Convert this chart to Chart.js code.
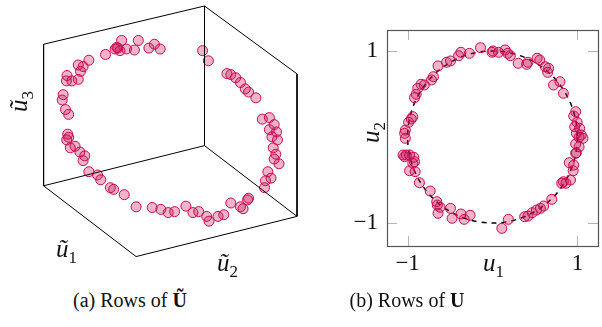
<!DOCTYPE html>
<html>
<head>
<meta charset="utf-8">
<script src="https://cdn.jsdelivr.net/npm/chart.js@4/dist/chart.umd.min.js"></script>
<style>
  body { margin: 0; width: 602px; height: 327px; background: #fff; overflow: hidden; position: relative; font-family: 'Liberation Serif', 'Times New Roman', Times, 'DejaVu Serif', serif; }
  canvas { position: absolute; }
  #leftChart { left: 0; top: 0; }
  #rightChart { left: 340px; top: 0; }
  .lbl { position: absolute; font-style: italic; font-size: 25px; font-family: 'Liberation Serif', 'Times New Roman', Times, 'DejaVu Serif', serif; color: #111; white-space: nowrap; line-height: 1; }
  .lbl .s { font-style: normal; font-size: 17px; position: relative; top: 6px; }
  .cap { position: absolute; font-size: 20px; font-family: 'Liberation Serif', 'Times New Roman', Times, 'DejaVu Serif', serif; color: #111; white-space: nowrap; transform: translateX(-50%); }
</style>
</head>
<body>
<canvas id="leftChart" width="330" height="275"></canvas>
<canvas id="rightChart" width="264" height="290"></canvas>

<div class="lbl" style="left:8px; top:89px; transform: rotate(-90deg);">ũ<span class="s">3</span></div>
<div class="lbl" style="left:56px; top:236px;">ũ<span class="s">1</span></div>
<div class="lbl" style="left:217px; top:250px;">ũ<span class="s">2</span></div>
<div class="lbl" style="left:483px; top:250px;">u<span class="s">1</span></div>
<div class="lbl" style="left:360px; top:120px; transform: rotate(-90deg);">u<span class="s">2</span></div>

<div class="cap" style="left:130px; top:289px;">(a) Rows of <b>Ũ</b></div>
<div class="cap" style="left:407px; top:289px;">(b) Rows of <b>U</b></div>

<script>
// (a) rows of U~, projected onto the drawing plane
const leftX = [120, 137.3, 154, 160, 148.3, 133.3, 125, 115, 113.3, 118.3, 103.3, 86, 75, 80, 77.3,
    63.3, 62.7, 68.3, 75, 59.3, 58.3, 61.7, 65, 64, 65, 66.7, 71.7, 76.7, 81.7, 80, 86, 95, 98.3,
    108.3, 111.7, 122.7, 135, 151.7, 160.7, 168.3, 175, 186.7, 194, 200, 208.3, 210.7, 220, 226,
    233.3, 243.3, 250.7, 251.7, 268.3, 269.3, 275, 271.7, 283.3, 278.3, 280, 277.3, 281.7, 276,
    273.3, 280.7, 278.3, 266, 273.3, 259.3, 251.7, 248.3, 243.3, 238.3, 233.3, 229.3, 210, 204,
    63, 246, 116];
const leftY = [36, 36, 40, 45, 44, 46, 45, 43.3, 45, 46.7, 50.7, 56.7, 61.7, 63.3, 68.3,
    72.7, 78.3, 78.3, 76.7, 92.7, 98.3, 108.3, 113.3, 134, 137.3, 148.3, 146.7, 152.7, 156.7, 161.7, 173.3, 176.7, 181.7,
    190, 191.7, 197.3, 210, 210.7, 212.7, 216, 215, 209.3, 216, 215, 220, 225, 220, 218.3,
    206, 210, 202.7, 201, 190, 182.7, 180, 173.3, 165, 160, 155, 148.3, 140, 136.7,
    129.3, 131.7, 124, 118.3, 116.7, 96, 90, 86.7, 80, 75, 71.7, 70.7, 57.3, 46.7,
    140, 212, 44];

// projected corners of the 3D axis box, and which corners are joined
const boxCornersX = [39, 206, 302, 39, 135, 302, 206];
const boxCornersY = [40, 0, 71, 188, 262, 220, 146];
const boxEdges = [[0, 3], [3, 4], [4, 5], [2, 5], [0, 1], [1, 2], [1, 6], [6, 3], [6, 5]];

// (b) rows of U
const rightU1 = [-0.141, -0.272, -0.372, -0.399, -0.495, -0.541, -0.642, -0.696, -0.719, -0.803,
    -0.842, -0.881, -0.899, -0.919, -0.939, -0.957, -0.988, -1.027, -1.035, -1.027,
    -0.006, 0.006, 0.072, 0.148, 0.179, 0.210, 0.303, 0.402, 0.418, 0.526, 0.557, 0.622, 0.661,
    0.650, 0.719, 0.795, 0.835, 0.980, 0.957, 0.997, 0.969, 1.027,
    1.046, 1.066, 1.020, 0.988, 0.980, 1.020, 0.988, 0.980, 0.904, 0.957, 0.950, 0.919, 0.865,
    0.835, 0.815,
    0.699, 0.603, 0.564, 0.518, 0.468, 0.418, 0.379, 0.187, 0.110,
    -1.015, -1.035, -1.054, -0.977, -0.927, -0.939, -0.919, -0.977, -0.911, -0.861, -0.734,
    -0.657, -0.650, -0.618, -0.642, -0.495, -0.476, -0.372, -0.333, -0.264];
const rightU2 = [1.038, 0.973, 0.985, 0.945, 0.884, 0.869, 0.826, 0.701, 0.663, 0.605,
    0.613, 0.566, 0.497, 0.457, 0.236, 0.209, 0.171, 0.081, 0.043, -0.015,
    0.985, 1.0, 0.985, 1.012, 0.973, 0.945, 0.857, 0.845, 0.869, 0.915, 0.895, 0.817, 0.799,
    0.752, 0.605, 0.643, 0.508, 0.294, 0.244, 0.171, 0.120, 0.101,
    0.023, -0.015, -0.003, 0.043, -0.081, -0.113, -0.183, -0.190, -0.299, -0.326, -0.392, -0.5, -0.538,
    -0.520, -0.538,
    -0.724, -0.802, -0.829, -0.849, -0.880, -0.919, -0.927, -0.957, -1.062,
    -0.209, -0.229, -0.209, -0.209, -0.236, -0.306, -0.287, -0.392, -0.403, -0.531, -0.628,
    -0.752, -0.791, -0.817, -0.887, -0.829, -0.945, -0.895, -0.957, -0.910];

const tickValues = [-1, 1];
const circleRadius = 1;

const markEdge = 'rgb(200,10,80)';
const markFill = 'rgba(200,10,80,0.3)';

Chart.defaults.font.family = "'Liberation Serif', 'Times New Roman', Times, 'DejaVu Serif', serif";
Chart.defaults.color = '#111';

// ---- left panel ----
const boxSets = boxEdges.map(e => ({
    type: 'line',
    data: e.map(i => ({ x: boxCornersX[i], y: boxCornersY[i] })),
    borderColor: '#000',
    borderWidth: 1,
    pointRadius: 0,
    fill: false,
    clip: false
}));

new Chart(document.getElementById('leftChart'), {
    type: 'scatter',
    data: {
        datasets: boxSets.concat([{
            data: leftX.map((x, i) => ({ x: x, y: leftY[i] })),
            backgroundColor: markFill,
            borderColor: markEdge,
            borderWidth: 1,
            pointRadius: 5,
            clip: false
        }])
    },
    options: {
        responsive: false,
        animation: false,
        layout: { padding: 0 },
        plugins: { legend: { display: false }, tooltip: { enabled: false } },
        scales: {
            x: { type: 'linear', display: false, min: 0, max: 330 },
            y: { type: 'linear', display: false, min: 0, max: 275, reverse: true }
        }
    }
});

// ---- right panel ----
const fmt = v => (v < 0 ? '\u2212' + Math.abs(v) : String(v));

const framePlugin = {
    id: 'frame',
    beforeDatasetsDraw(chart) {
        const { ctx, scales: { x, y } } = chart;
        const cx = x.getPixelForValue(0), cy = y.getPixelForValue(0);
        const rx = x.getPixelForValue(circleRadius) - cx;
        const ry = cy - y.getPixelForValue(circleRadius);
        ctx.save();
        ctx.strokeStyle = '#000';
        ctx.lineWidth = 1.5;
        ctx.setLineDash([5, 5]);
        ctx.beginPath();
        ctx.ellipse(cx, cy, rx, ry, 0, 0, Math.PI * 2);
        ctx.stroke();
        ctx.restore();
    },
    afterDraw(chart) {
        const { ctx, chartArea: a, scales: { x, y } } = chart;
        ctx.save();
        ctx.strokeStyle = '#b5b5b5';
        ctx.lineWidth = 1;
        tickValues.forEach(v => {
            const px = Math.round(x.getPixelForValue(v)) + 0.5;
            ctx.beginPath();
            ctx.moveTo(px, a.bottom); ctx.lineTo(px, a.bottom - 10);
            ctx.moveTo(px, a.top); ctx.lineTo(px, a.top + 10);
            ctx.stroke();
            const py = Math.round(y.getPixelForValue(v)) + 0.5;
            ctx.beginPath();
            ctx.moveTo(a.left, py); ctx.lineTo(a.left + 10, py);
            ctx.moveTo(a.right, py); ctx.lineTo(a.right - 10, py);
            ctx.stroke();
        });
        ctx.strokeStyle = '#555';
        ctx.lineWidth = 1.2;
        ctx.strokeRect(Math.round(a.left) + 0.5, Math.round(a.top) + 0.5, a.right - a.left, a.bottom - a.top);
        ctx.restore();
    }
};

new Chart(document.getElementById('rightChart'), {
    type: 'scatter',
    data: {
        datasets: [{
            data: rightU1.map((x, i) => ({ x: x, y: rightU2[i] })),
            backgroundColor: markFill,
            borderColor: markEdge,
            borderWidth: 1,
            pointRadius: 5,
            clip: false
        }]
    },
    options: {
        responsive: false,
        animation: false,
        layout: { padding: { top: 30, right: 2, left: 0, bottom: 0 } },
        plugins: { legend: { display: false }, tooltip: { enabled: false } },
        scales: {
            x: {
                type: 'linear', min: -1.243, max: 1.243,
                afterBuildTicks: s => { s.ticks = tickValues.map(v => ({ value: v })); },
                afterFit: s => { s.height = 44; },
                grid: { display: false, drawTicks: false },
                border: { display: false },
                ticks: { font: { size: 23 }, padding: 4, maxRotation: 0, callback: fmt }
            },
            y: {
                type: 'linear', min: -1.267, max: 1.244,
                afterBuildTicks: s => { s.ticks = tickValues.map(v => ({ value: v })); },
                afterFit: s => { s.width = 47; },
                grid: { display: false, drawTicks: false },
                border: { display: false },
                ticks: { font: { size: 23 }, padding: 9, callback: fmt }
            }
        }
    },
    plugins: [framePlugin]
});
</script>
</body>
</html>
